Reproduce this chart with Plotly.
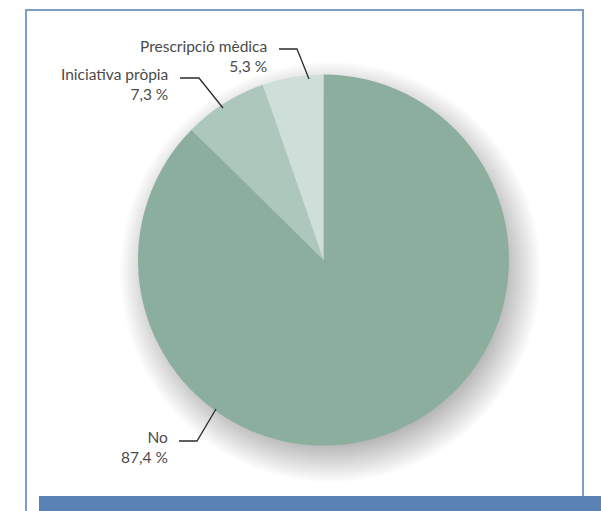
import plotly.graph_objects as go

# Data
categories = ["No", "Iniciativa pròpia", "Prescripció mèdica"]
shares = [87.4, 7.3, 5.3]
slice_colors = ["#8BAE9F", "#ADC7BC", "#CEDFD9"]

W, H = 601, 511

# Pie geometry in pixels
CX, CY, R = 323.5, 260.0, 185.5


def px(x):
    return x / W


def py(y):
    return 1 - y / H


def fmt(v):
    return f"{v:.1f}".replace(".", ",") + " %"


fig = go.Figure()

fig.add_trace(go.Pie(
    labels=categories,
    values=shares,
    marker=dict(colors=slice_colors, line=dict(width=0)),
    sort=False,
    direction="clockwise",
    rotation=0,
    textinfo="none",
    hoverinfo="label+percent",
    showlegend=False,
    domain=dict(x=[px(CX - R), px(CX + R)], y=[py(CY + R), py(CY - R)]),
))

shapes = []

# Soft drop shadow beneath the pie
DX, DY = 7, 12
n = 24
for i in range(n):
    r = R - 12 + i * 1.6
    shapes.append(dict(
        type="circle", xref="paper", yref="paper", layer="below",
        x0=px(CX + DX - r), x1=px(CX + DX + r),
        y0=py(CY + DY + r), y1=py(CY + DY - r),
        fillcolor="rgba(0,0,0,0.012)", line=dict(width=0),
    ))

# Frame
frame_col = "#7C9DCB"
shapes += [
    dict(type="line", xref="paper", yref="paper", x0=px(26), x1=px(26), y0=py(9), y1=py(511),
         line=dict(color=frame_col, width=2)),
    dict(type="line", xref="paper", yref="paper", x0=px(25), x1=px(584), y0=py(10), y1=py(10),
         line=dict(color=frame_col, width=2)),
    dict(type="line", xref="paper", yref="paper", x0=px(583), x1=px(583), y0=py(9), y1=py(497),
         line=dict(color=frame_col, width=2)),
    dict(type="rect", xref="paper", yref="paper", x0=px(39), x1=px(601), y0=py(511), y1=py(496),
         fillcolor="#5B82B5", line=dict(width=0), layer="above"),
]

# Leader lines (text end -> elbow -> pie edge)
leaders = [
    [(179, 441), (197, 441), (216, 409)],
    [(180, 78), (199, 78), (223, 108)],
    [(279, 49), (297, 49), (309, 79)],
]
for pts in leaders:
    path = "M " + " L ".join(f"{px(x)},{py(y)}" for x, y in pts)
    shapes.append(dict(type="path", xref="paper", yref="paper", path=path,
                       line=dict(color="#2b2b2b", width=1.3), layer="above"))

fig.update_layout(shapes=shapes)

# Labels: category name with its value on the line below
label_pos = [(170, 447), (170, 84), (269, 56)]
font = dict(family="Lato", size=15.5, color="#4a4a4a")
for cat, val, (x, y) in zip(categories, shares, label_pos):
    fig.add_annotation(
        x=px(x), y=py(y), xref="paper", yref="paper",
        text=f"{cat}<br>{fmt(val)}", showarrow=False,
        xanchor="right", yanchor="middle", align="right",
        font=font,
    )

fig.update_layout(
    width=W, height=H,
    margin=dict(l=0, r=0, t=0, b=0),
    paper_bgcolor="white", plot_bgcolor="white",
)

fig.write_html("out.html")
